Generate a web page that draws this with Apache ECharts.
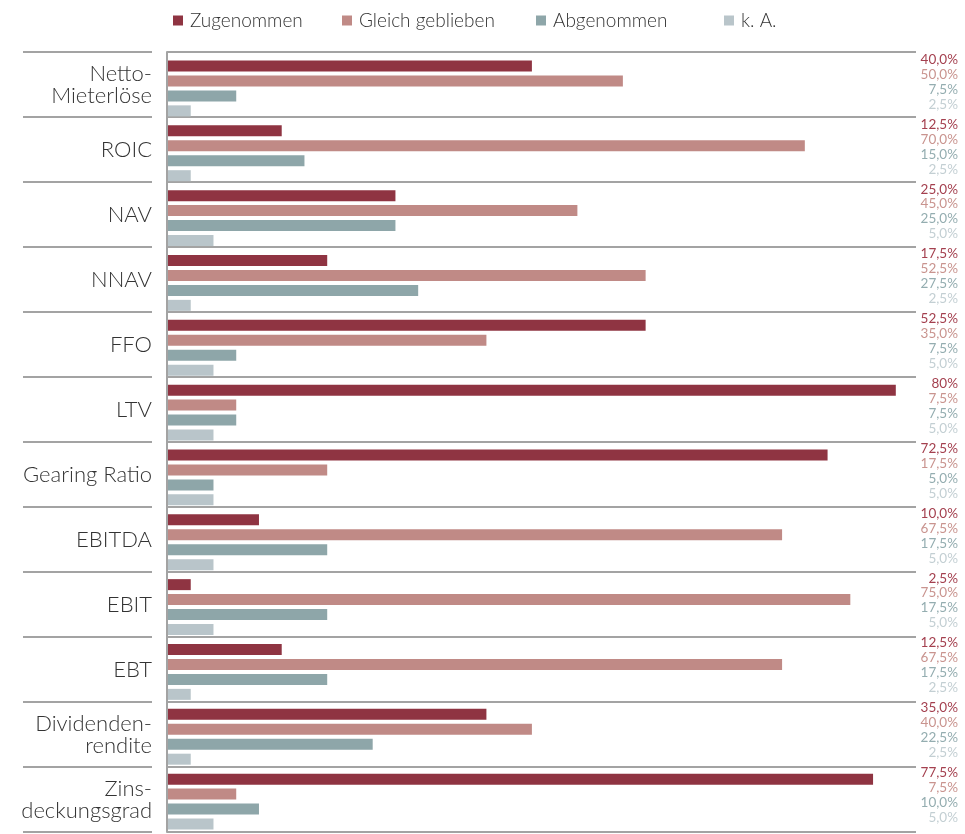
<!DOCTYPE html>
<html>
<head>
<meta charset="utf-8">
<script src="https://cdn.jsdelivr.net/npm/echarts@6/dist/echarts.min.js"></script>
<style>
html,body{margin:0;padding:0;background:#fff;}
#chart{width:965px;height:834px;}
</style>
</head>
<body>
<div id="chart"></div>
<script>
const categories = ['Netto-\nMieterlöse','ROIC','NAV','NNAV','FFO','LTV','Gearing Ratio','EBITDA','EBIT','EBT','Dividenden-\nrendite','Zins-\ndeckungsgrad'];
const seriesNames = ['Zugenommen','Gleich geblieben','Abgenommen','k. A.'];
const zugenommen = [40, 12.5, 25, 17.5, 52.5, 80, 72.5, 10, 2.5, 12.5, 35, 77.5];
const gleichGeblieben = [50, 70, 45, 52.5, 35, 7.5, 17.5, 67.5, 75, 67.5, 40, 7.5];
const abgenommen = [7.5, 15, 25, 27.5, 7.5, 7.5, 5, 17.5, 17.5, 17.5, 22.5, 10];
const keineAngabe = [2.5, 2.5, 5, 2.5, 5, 5, 5, 5, 5, 2.5, 2.5, 5];
// labels shown without decimal in the original
const integerLabels = [{series: 0, index: 5}];

const seriesData = [zugenommen, gleichGeblieben, abgenommen, keineAngabe];
const barColors = ['#8f3442', '#c08a86', '#8ea6a9', '#b9c5ca'];
const labelColors = ['#a4404f', '#c9948f', '#94adb0', '#c3cfd3'];
const FONT = 'Lato';

function fmt(si, idx, v) {
  if (integerLabels.some(o => o.series === si && o.index === idx)) return v.toFixed(0) + '%';
  return v.toFixed(1).replace('.', ',') + '%';
}

const chart = echarts.init(document.getElementById('chart'), null, {renderer: 'canvas'});

const legendLefts = [168, 337, 531, 719];
const legends = seriesNames.map((n, i) => ({
  data: [n], left: legendLefts[i], top: 6, icon: 'rect', itemWidth: 10, itemHeight: 10,
  itemGap: 0, textStyle: {fontFamily: FONT, fontSize: 19, fontWeight: 300, color: '#333', padding: [0,0,0,2]},
  selectedMode: false
}));

const option = {
  backgroundColor: '#fff',
  animation: false,
  legend: legends,
  grid: [
    {left: 167, top: 52, width: 749, height: 780, containLabel: false},
    {left: 23, top: 52, width: 129, height: 780, containLabel: false},
    {left: 168, top: 56, width: 746, height: 780, containLabel: false}
  ],
  xAxis: [
    {gridIndex: 0, type: 'value', show: false, min: 0, max: 82},
    {gridIndex: 1, type: 'value', show: false, min: 0, max: 1},
    {gridIndex: 2, type: 'value', show: false, min: 0, max: 82}
  ],
  yAxis: [
    {gridIndex: 0, type: 'category', inverse: true, data: categories,
      axisLine: {show: true, lineStyle: {color: '#a3a3a3', width: 2}},
      axisTick: {show: false},
      splitLine: {show: true, lineStyle: {color: '#a3a3a3', width: 2}},
      axisLabel: {show: true, margin: 15, fontFamily: FONT, fontSize: 22, fontWeight: 300, color: '#333', lineHeight: 22, align: 'right'}},
    {gridIndex: 1, type: 'category', inverse: true, data: categories,
      axisLine: {show: false}, axisTick: {show: false}, axisLabel: {show: false},
      splitLine: {show: true, lineStyle: {color: '#a3a3a3', width: 2}}},
    {gridIndex: 2, type: 'category', inverse: true, data: categories, show: false}
  ],
  series: seriesNames.map((n, si) => ({
    name: n, type: 'bar', xAxisIndex: 2, yAxisIndex: 2,
    data: seriesData[si], barWidth: 11, barGap: '36%', barCategoryGap: '0%',
    itemStyle: {color: barColors[si]},
    label: {show: true, position: [790, -1], align: 'right', verticalAlign: 'middle',
      fontFamily: FONT, fontSize: 13.5, fontWeight: 400, color: labelColors[si],
      formatter: p => fmt(si, p.dataIndex, p.value)},
    silent: true
  }))
};
chart.setOption(option);
</script>
</body>
</html>
